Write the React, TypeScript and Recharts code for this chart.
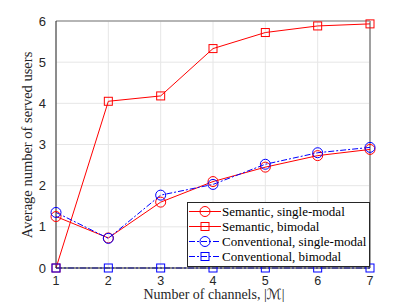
import type { FC } from 'react';
import { CartesianGrid, Label, Legend, Line, LineChart, ReferenceLine, XAxis, YAxis } from 'recharts';

const channels = [1, 2, 3, 4, 5, 6, 7];
const semanticSingle = [1.25, 0.73, 1.6, 2.1, 2.45, 2.73, 2.88];
const semanticBimodal = [0, 4.05, 4.18, 5.33, 5.72, 5.88, 5.93];
const conventionalSingle = [1.35, 0.72, 1.77, 2.03, 2.52, 2.8, 2.93];
const conventionalBimodal = [0, 0, 0, 0, 0, 0, 0];
const yTicks = [0, 1, 2, 3, 4, 5, 6];

const data = channels.map((m, i) => ({
  m,
  semSingle: semanticSingle[i],
  semBi: semanticBimodal[i],
  convSingle: conventionalSingle[i],
  convBi: conventionalBimodal[i],
}));

const RED = '#ff0000';
const BLUE = '#0000ff';
const DASH = '6 2 2 2';
const SERIF = '"Liberation Serif", "DejaVu Serif", serif';
const SANS = '"Liberation Sans", Arial, sans-serif';

const series = [
  { key: 'semSingle', name: 'Semantic, single-modal', color: RED, dash: undefined, marker: 'circle' },
  { key: 'semBi', name: 'Semantic, bimodal', color: RED, dash: undefined, marker: 'square' },
  { key: 'convSingle', name: 'Conventional, single-modal', color: BLUE, dash: DASH, marker: 'circle' },
  { key: 'convBi', name: 'Conventional, bimodal', color: BLUE, dash: DASH, marker: 'square' },
];

const marker = (kind: string, color: string) => (p: any) => {
  const { cx, cy, index } = p;
  if (cx == null || cy == null) return <g key={index} />;
  return kind === 'circle' ? (
    <circle key={index} cx={cx} cy={cy} r={5} fill='none' stroke={color} strokeWidth={1} />
  ) : (
    <rect key={index} x={cx - 4} y={cy - 4} width={8} height={8} fill='none' stroke={color} strokeWidth={1} />
  );
};

const LegendBox: FC = () => (
  <div
    style={{
      border: '1px solid #262626',
      background: '#fff',
      padding: '1px 3px 2px 0',
      fontFamily: SERIF,
      fontSize: 13,
      color: '#000',
      lineHeight: '15px',
    }}
  >
    {series.map((s) => (
      <div key={s.key} style={{ display: 'flex', alignItems: 'center', whiteSpace: 'nowrap' }}>
        <svg width={34} height={15} style={{ flex: 'none' }}>
          <line x1={1} y1={7.5} x2={33} y2={7.5} stroke={s.color} strokeDasharray={s.dash} />
          {s.marker === 'circle' ? (
            <circle cx={17} cy={7.5} r={5} fill='none' stroke={s.color} />
          ) : (
            <rect x={13} y={3.5} width={8} height={8} fill='none' stroke={s.color} />
          )}
        </svg>
        <span>{s.name}</span>
      </div>
    ))}
  </div>
);

const App: FC = () => {
  return (
    <div style={{ position: 'fixed', left: 0, top: 0, background: '#fff' }}>
      <LineChart width={403} height={302} data={data} margin={{ top: 21, right: 33, left: 26, bottom: 14 }}>
        <CartesianGrid stroke='#e6e6e6' strokeWidth={1} />
        <XAxis
          dataKey='m'
          type='number'
          domain={[1, 7]}
          ticks={channels}
          height={20}
          stroke='#262626'
          tickLine={false}
          tick={{ fill: '#262626', fontFamily: SANS, fontSize: 12.5 }}
          tickMargin={2}
        >
          <Label
            content={() => (
              <text x={214} y={299} textAnchor='middle' fontFamily={SERIF} fontSize={14} fill='#262626'>
                Number of channels, |<tspan fontFamily='"DejaVu Sans"' fontStyle='italic'>ℳ</tspan>|
              </text>
            )}
          />
        </XAxis>
        <YAxis
          type='number'
          domain={[0, 6]}
          ticks={yTicks}
          width={30}
          stroke='#262626'
          tickLine={false}
          tick={{ fill: '#262626', fontFamily: SANS, fontSize: 13 }}
          tickMargin={4}
        >
          <Label
            content={() => (
              <text
                transform='translate(32,145) rotate(-90)'
                textAnchor='middle'
                fontFamily={SERIF}
                fontSize={14.5}
                fill='#262626'
              >
                Average number of served users
              </text>
            )}
          />
        </YAxis>
        <ReferenceLine y={6} stroke='#a0a0a0' strokeWidth={1.5} />
        <ReferenceLine x={7} stroke='#a0a0a0' strokeWidth={2} />
        {series.map((s) => (
          <Line
            key={s.key}
            type='linear'
            dataKey={s.key}
            name={s.name}
            stroke={s.color}
            strokeWidth={1}
            strokeDasharray={s.dash}
            dot={marker(s.marker, s.color)}
            activeDot={false}
            isAnimationActive={false}
          />
        ))}
        <Legend
          layout='horizontal'
          verticalAlign='middle'
          align='center'
          content={<LegendBox />}
          wrapperStyle={{ position: 'absolute', left: 187, top: 202, width: 'auto' }}
        />
      </LineChart>
    </div>
  );
};

export default App;
